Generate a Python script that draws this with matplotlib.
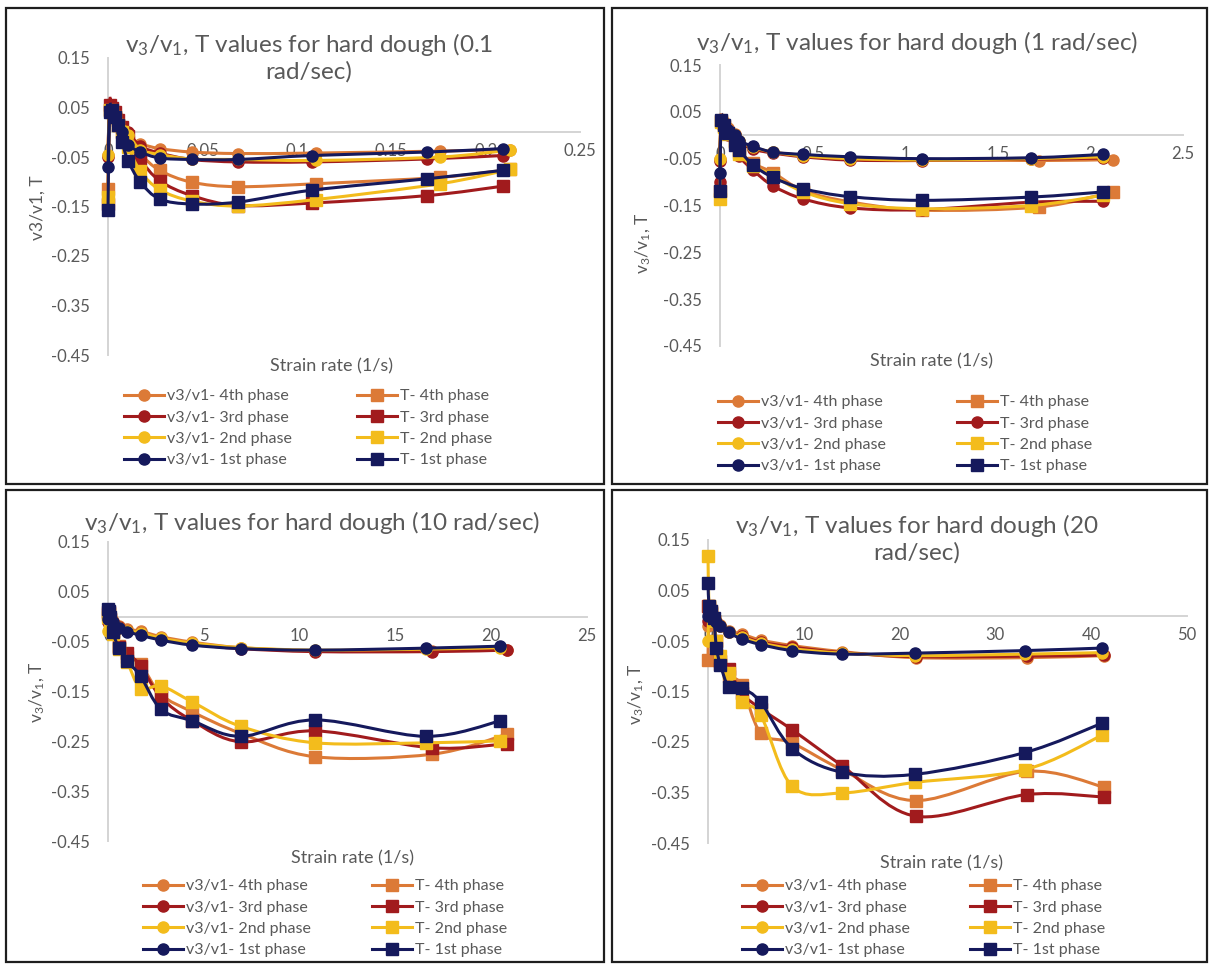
import matplotlib
matplotlib.use("Agg")
import matplotlib.pyplot as plt
import numpy as np
from matplotlib.path import Path
from matplotlib.patches import PathPatch, Rectangle
from matplotlib.lines import Line2D

plt.rcParams["font.family"] = ["Lato", "DejaVu Sans"]
plt.rcParams["mathtext.fontset"] = "custom"
plt.rcParams["mathtext.rm"] = "Lato"
plt.rcParams["mathtext.it"] = "Lato:italic"

W, H = 1209, 964
GREY = "#595959"
AXIS_GREY = "#D4D4D4"
ORANGE = "#DC7A37"
RED = "#A11B1D"
YELLOW = "#F3BC1C"
NAVY = "#15195C"

# ---------------- data ----------------
# panel 1: 0.1 rad/sec
p1_x = [0, 0.0008, 0.002, 0.0035, 0.0055, 0.0075, 0.0107, 0.0172, 0.0274, 0.0444, 0.069, 0.108, 0.169, 0.209]
p1_x_late = [0, 0.0008, 0.002, 0.0035, 0.0055, 0.0075, 0.0107, 0.0172, 0.0274, 0.0444, 0.069, 0.110, 0.176, 0.213]
p1_v4 = [-0.045, 0.048, 0.045, 0.035, 0.020, 0.005, -0.008, -0.023, -0.033, -0.040, -0.043, -0.042, -0.038, -0.035]
p1_v3 = [-0.050, 0.056, 0.052, 0.042, 0.028, 0.012, 0.000, -0.028, -0.042, -0.055, -0.060, -0.060, -0.054, -0.047]
p1_v2 = [-0.045, 0.045, 0.040, 0.030, 0.018, 0.005, -0.005, -0.035, -0.045, -0.054, -0.055, -0.057, -0.050, -0.036]
p1_v1 = [-0.070, 0.042, 0.040, 0.030, 0.015, 0.000, -0.025, -0.040, -0.052, -0.055, -0.055, -0.047, -0.040, -0.033]
p1_T4 = [-0.115, 0.045, 0.040, 0.030, 0.015, 0.000, -0.020, -0.045, -0.077, -0.101, -0.110, -0.104, -0.091, -0.075]
p1_T3 = [-0.145, 0.055, 0.050, 0.040, 0.025, 0.010, -0.008, -0.055, -0.098, -0.128, -0.148, -0.143, -0.128, -0.109]
p1_T2 = [-0.130, 0.045, 0.040, 0.030, 0.015, 0.000, -0.030, -0.079, -0.116, -0.139, -0.149, -0.136, -0.104, -0.075]
p1_T1 = [-0.157, 0.040, 0.045, 0.030, 0.015, -0.020, -0.058, -0.101, -0.135, -0.145, -0.141, -0.117, -0.094, -0.077]

# panel 2: 1 rad/sec
p2_x = [0, 0.005, 0.02, 0.045, 0.08, 0.104, 0.18, 0.286, 0.45, 0.70, 1.09, 1.68, 2.07]
p2_x_late = [0, 0.005, 0.02, 0.045, 0.08, 0.104, 0.18, 0.286, 0.45, 0.70, 1.09, 1.725, 2.12]
p2_v4 = [-0.050, 0.035, 0.028, 0.015, 0.002, -0.012, -0.026, -0.036, -0.043, -0.050, -0.052, -0.054, -0.052]
p2_v3 = [-0.055, 0.030, 0.022, 0.010, 0.000, -0.015, -0.030, -0.038, -0.046, -0.053, -0.054, -0.051, -0.049]
p2_v2 = [-0.050, 0.030, 0.022, 0.010, 0.000, -0.013, -0.026, -0.036, -0.044, -0.050, -0.053, -0.050, -0.046]
p2_v1 = [-0.080, 0.032, 0.025, 0.012, 0.000, -0.012, -0.024, -0.036, -0.041, -0.046, -0.050, -0.048, -0.041]
p2_T4 = [-0.120, 0.030, 0.020, 0.005, -0.012, -0.035, -0.060, -0.080, -0.118, -0.142, -0.160, -0.153, -0.121]
p2_T3 = [-0.100, 0.025, 0.015, 0.000, -0.020, -0.045, -0.075, -0.108, -0.136, -0.155, -0.159, -0.143, -0.141]
p2_T2 = [-0.137, 0.028, 0.018, 0.002, -0.015, -0.040, -0.066, -0.086, -0.121, -0.146, -0.157, -0.150, -0.128]
p2_T1 = [-0.118, 0.032, 0.022, 0.005, -0.021, -0.032, -0.064, -0.090, -0.114, -0.131, -0.139, -0.132, -0.121]

# panel 3: 10 rad/sec
p3_x = [0, 0.05, 0.12, 0.25, 0.55, 0.99, 1.70, 2.77, 4.41, 6.93, 10.82, 16.6, 20.48]
p3_x_late = [0, 0.05, 0.12, 0.25, 0.55, 0.99, 1.70, 2.77, 4.41, 6.93, 10.82, 16.9, 20.8]
p3_v4 = [-0.010, 0.012, 0.005, -0.008, -0.018, -0.025, -0.029, -0.040, -0.051, -0.062, -0.068, -0.068, -0.067]
p3_v3 = [-0.010, 0.010, 0.003, -0.010, -0.020, -0.028, -0.033, -0.045, -0.055, -0.064, -0.070, -0.070, -0.067]
p3_v2 = [-0.028, 0.005, 0.000, -0.012, -0.022, -0.028, -0.032, -0.043, -0.053, -0.062, -0.067, -0.065, -0.062]
p3_v1 = [-0.005, 0.012, 0.005, -0.010, -0.022, -0.030, -0.037, -0.047, -0.057, -0.064, -0.067, -0.063, -0.059]
p3_T4 = [0.005, 0.008, -0.005, -0.028, -0.058, -0.080, -0.095, -0.156, -0.191, -0.234, -0.281, -0.276, -0.236]
p3_T3 = [0.010, 0.010, -0.005, -0.030, -0.060, -0.072, -0.099, -0.162, -0.209, -0.251, -0.229, -0.263, -0.255]
p3_T2 = [0.000, 0.005, -0.008, -0.035, -0.065, -0.090, -0.144, -0.139, -0.171, -0.220, -0.253, -0.253, -0.249]
p3_T1 = [0.015, 0.012, 0.000, -0.030, -0.062, -0.089, -0.119, -0.186, -0.209, -0.240, -0.207, -0.240, -0.209]

# panel 4: 20 rad/sec
p4_x = [0, 0.1, 0.3, 0.6, 0.88, 1.29, 2.17, 3.5, 5.5, 8.8, 14.0, 21.6, 33.05, 41.1]
p4_x_late = [0, 0.1, 0.3, 0.6, 0.88, 1.29, 2.17, 3.5, 5.5, 8.8, 14.0, 21.7, 33.3, 41.3]
p4_v4 = [-0.020, 0.020, 0.010, 0.000, -0.010, -0.018, -0.030, -0.036, -0.048, -0.059, -0.071, -0.083, -0.083, -0.079]
p4_v3 = [-0.010, 0.015, 0.005, -0.005, -0.012, -0.020, -0.033, -0.040, -0.052, -0.062, -0.073, -0.081, -0.080, -0.078]
p4_v2 = [-0.050, 0.010, 0.003, -0.005, -0.012, -0.020, -0.032, -0.042, -0.054, -0.065, -0.074, -0.079, -0.076, -0.073]
p4_v1 = [0.000, 0.015, 0.005, -0.005, -0.012, -0.020, -0.033, -0.046, -0.057, -0.069, -0.076, -0.074, -0.069, -0.064]
p4_T4 = [-0.087, 0.020, 0.010, -0.010, -0.077, -0.095, -0.120, -0.137, -0.232, -0.252, -0.305, -0.366, -0.308, -0.339]
p4_T3 = [0.020, 0.015, 0.005, -0.010, -0.050, -0.090, -0.105, -0.153, -0.184, -0.226, -0.297, -0.397, -0.354, -0.359]
p4_T2 = [0.119, 0.020, 0.005, -0.010, -0.050, -0.080, -0.114, -0.170, -0.197, -0.338, -0.351, -0.330, -0.305, -0.237]
p4_T1 = [0.065, 0.020, 0.010, -0.005, -0.063, -0.097, -0.141, -0.143, -0.171, -0.263, -0.310, -0.314, -0.271, -0.213]

y_ticks = [0.15, 0.05, -0.05, -0.15, -0.25, -0.35, -0.45]
y_ticklabels = ["0.15", "0.05", "-0.05", "-0.15", "-0.25", "-0.35", "-0.45"]
p1_xticks = [0, 0.05, 0.1, 0.15, 0.2, 0.25]
p1_xticklabels = ["0", "0.05", "0.1", "0.15", "0.2", "0.25"]
p2_xticks = [0, 0.5, 1, 1.5, 2, 2.5]
p2_xticklabels = ["0", "0.5", "1", "1.5", "2", "2.5"]
p3_xticks = [0, 5, 10, 15, 20, 25]
p3_xticklabels = ["0", "5", "10", "15", "20", "25"]
p4_xticks = [0, 10, 20, 30, 40, 50]
p4_xticklabels = ["0", "10", "20", "30", "40", "50"]


def fx(px):
    return px / W


def fy(py):
    return 1 - py / H


def smooth_path(x, y):
    # Excel-like smoothed line (Catmull-Rom as cubic Bezier segments)
    pts = np.column_stack([x, y]).astype(float)
    n = len(pts)
    verts = [pts[0]]
    codes = [Path.MOVETO]
    for i in range(n - 1):
        p0 = pts[i - 1] if i > 0 else pts[i]
        p1 = pts[i]
        p2 = pts[i + 1]
        p3 = pts[i + 2] if i + 2 < n else pts[i + 1]
        verts += [p1 + (p2 - p0) / 6, p2 - (p3 - p1) / 6, p2]
        codes += [Path.CURVE4] * 3
    return Path(verts, codes)


fig = plt.figure(figsize=(W / 100, H / 100), dpi=100)

# panel frames
for (x0, y0, x1, y1) in [(6, 8, 604, 484), (612, 8, 1207, 484), (6, 490, 604, 962), (612, 490, 1207, 962)]:
    fig.add_artist(Rectangle((fx(x0), fy(y1)), fx(x1 - x0), (y1 - y0) / H,
                             transform=fig.transFigure, fill=False, ec="#1E1E1E", lw=1.6))


def draw_panel(area, xmax, xticks, xticklabels, title, title_xy, ylabel, ylabel_xy,
               xlabel_xy, leg1_xy, leg2_xy, series):
    left, top, right, bottom = area
    ax = fig.add_axes([fx(left), fy(bottom), fx(right - left), (bottom - top) / H])
    ax.patch.set_visible(False)
    ax.set_xlim(0, xmax)
    ax.set_ylim(-0.45, 0.15)
    ax.spines["top"].set_visible(False)
    ax.spines["right"].set_visible(False)
    ax.spines["bottom"].set_position(("data", 0))
    for s in ("bottom", "left"):
        ax.spines[s].set_color(AXIS_GREY)
        ax.spines[s].set_linewidth(1.4)
    ax.set_xticks(xticks)
    ax.set_xticklabels(xticklabels)
    ax.set_yticks(y_ticks)
    ax.set_yticklabels(y_ticklabels)
    ax.tick_params(axis="both", length=0, labelsize=12, labelcolor=GREY)
    ax.tick_params(axis="x", pad=8)
    ax.tick_params(axis="y", pad=13)

    handles = {}
    for k, (label, x, y, color, marker) in enumerate(series):
        z = 3 + k * 0.1
        ax.add_patch(PathPatch(smooth_path(x, y), fill=False, ec=color, lw=2.2,
                               zorder=z, clip_on=False))
        ax.plot(x, y, ls="none", marker=marker, ms=8, color=color, mec=color,
                zorder=z + 0.05, clip_on=False)
        handles[label] = Line2D([], [], color=color, lw=2.2, marker=marker, ms=8)

    fig.text(fx(title_xy[0]), fy(title_xy[1]), title, ha="center", va="center",
             fontsize=17.5, color=GREY, linespacing=1.2)
    fig.text(fx(ylabel_xy[0]), fy(ylabel_xy[1]), ylabel, rotation=90, ha="center",
             va="center", fontsize=12.5, color=GREY)
    fig.text(fx(xlabel_xy[0]), fy(xlabel_xy[1]), "Strain rate (1/s)", ha="center",
             va="center", fontsize=13, color=GREY)

    labels = [s[0] for s in series]
    col1 = [l for l in labels if l.startswith("v3")]
    col2 = [l for l in labels if l.startswith("T")]
    for cols, (lx, ly) in ((col1, leg1_xy), (col2, leg2_xy)):
        order = sorted(cols, key=lambda l: ["4th", "3rd", "2nd", "1st"].index(l.split()[-2]))
        fig.legend([handles[l] for l in order], order, loc="upper left",
                   bbox_to_anchor=(fx(lx), fy(ly)), bbox_transform=fig.transFigure,
                   frameon=False, borderpad=0, borderaxespad=0, fontsize=11.5,
                   handlelength=2.5, handletextpad=0.2, labelspacing=0.45,
                   labelcolor=GREY)
    return ax


def make_series(xa, xb, v4, v3, v2, v1, t4, t3, t2, t1, t3_marker="s", late=("v4", "T4", "v2", "T2")):
    def xs(key):
        return xb if key in late else xa
    return [
        ("v3/v1- 4th phase", xs("v4"), v4, ORANGE, "o"),
        ("T- 4th phase", xs("T4"), t4, ORANGE, "s"),
        ("v3/v1- 3rd phase", xs("v3"), v3, RED, "o"),
        ("T- 3rd phase", xs("T3"), t3, RED, t3_marker),
        ("v3/v1- 2nd phase", xs("v2"), v2, YELLOW, "o"),
        ("T- 2nd phase", xs("T2"), t2, YELLOW, "s"),
        ("v3/v1- 1st phase", xs("v1"), v1, NAVY, "o"),
        ("T- 1st phase", xs("T1"), t1, NAVY, "s"),
    ]


sub_label = r"v$_3$/v$_1$, T"

draw_panel((108, 58, 580, 355), 0.25, p1_xticks, p1_xticklabels,
           r"v$_3$/v$_1$, T values for hard dough (0.1" + "\nrad/sec)", (309, 57),
           "v3/v1, T", (38, 208), (332, 366), (124, 389), (357, 389),
           make_series(p1_x, p1_x_late, p1_v4, p1_v3, p1_v2, p1_v1, p1_T4, p1_T3, p1_T2, p1_T1))

draw_panel((720, 65, 1183, 346), 2.5, p2_xticks, p2_xticklabels,
           r"v$_3$/v$_1$, T values for hard dough (1 rad/sec)", (917, 42),
           sub_label, (643, 243), (932, 361), (718, 395), (957, 395),
           make_series(p2_x, p2_x_late, p2_v4, p2_v3, p2_v2, p2_v1, p2_T4, p2_T3, p2_T2, p2_T1,
                       t3_marker="o", late=("v4", "T4")))

draw_panel((108, 542, 587, 841), 25, p3_xticks, p3_xticklabels,
           r"v$_3$/v$_1$, T values for hard dough (10 rad/sec)", (312, 522),
           sub_label, (37, 692), (352, 858), (143, 879), (372, 879),
           make_series(p3_x, p3_x_late, p3_v4, p3_v3, p3_v2, p3_v1, p3_T4, p3_T3, p3_T2, p3_T1,
                       late=("v4", "T4", "v3", "T3")))

draw_panel((708, 540, 1187, 843), 50, p4_xticks, p4_xticklabels,
           r"v$_3$/v$_1$, T values for hard dough (20" + "\nrad/sec)", (917, 538),
           sub_label, (636, 694), (941, 863), (742, 879), (970, 879),
           make_series(p4_x, p4_x_late, p4_v4, p4_v3, p4_v2, p4_v1, p4_T4, p4_T3, p4_T2, p4_T1,
                       late=("v4", "T4", "v3", "T3")))

fig.savefig("out.png", dpi=100)
